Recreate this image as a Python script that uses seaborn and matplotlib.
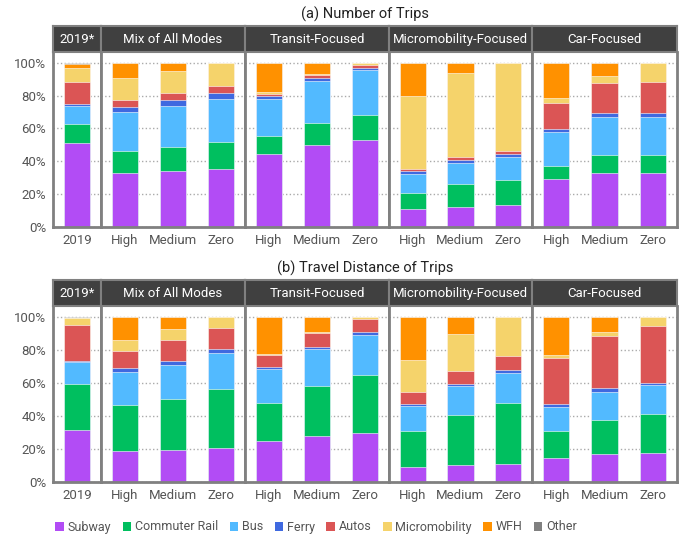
import pandas as pd
import matplotlib
matplotlib.use('Agg')
import matplotlib.pyplot as plt
import seaborn as sns
from matplotlib import font_manager
from matplotlib.patches import Patch

# Data (percent shares)
modes = ['Subway', 'Commuter Rail', 'Bus', 'Ferry', 'Autos', 'Micromobility', 'WFH', 'Other']
mode_colors = ['#B24CF5', '#00BF5F', '#52BAFF', '#3F69E0', '#DB5555', '#F5D36B', '#FF9100', '#808080']
scenarios = ['2019*', 'Mix of All Modes', 'Transit-Focused', 'Micromobility-Focused', 'Car-Focused']
levels = ['High', 'Medium', 'Zero']
bar_keys = [('2019*', '2019')] + [(s, l) for s in scenarios[1:] for l in levels]

# order: 2019 | Mix H M Z | Transit H M Z | Micro H M Z | Car H M Z
trips = {
    'Subway':        [51.0, 32.7, 33.9, 35.3, 44.3, 49.8, 52.7, 10.8, 12.2, 13.1, 29.0, 33.1, 32.7],
    'Commuter Rail': [11.9, 13.6, 14.9, 16.7, 10.8, 13.7, 15.3, 10.0, 13.9, 15.7, 8.3, 10.6, 11.4],
    'Bus':           [11.0, 23.7, 25.1, 26.2, 23.1, 25.3, 27.3, 11.6, 13.1, 14.1, 20.3, 23.4, 23.0],
    'Ferry':         [1.2, 3.1, 3.2, 3.2, 1.4, 1.6, 1.4, 1.5, 1.8, 1.8, 2.2, 2.5, 2.3],
    'Autos':         [12.9, 4.0, 4.3, 4.5, 1.4, 1.8, 1.9, 1.4, 1.7, 1.6, 15.5, 18.0, 19.0],
    'Micromobility': [8.7, 13.5, 13.7, 14.1, 1.2, 0.7, 1.4, 44.3, 50.8, 53.7, 3.3, 4.0, 11.6],
    'WFH':           [2.5, 9.4, 4.9, 0.0, 17.8, 7.1, 0.0, 20.4, 6.5, 0.0, 21.4, 8.4, 0.0],
    'Other':         [0.8, 0.0, 0.0, 0.0, 0.0, 0.0, 0.0, 0.0, 0.0, 0.0, 0.0, 0.0, 0.0],
}
distance = {
    'Subway':        [31.5, 18.5, 19.5, 20.3, 25.0, 28.0, 29.7, 8.9, 10.0, 10.8, 14.8, 17.1, 17.7],
    'Commuter Rail': [27.6, 28.0, 30.7, 35.8, 22.8, 30.1, 35.1, 22.2, 30.7, 36.8, 15.9, 20.7, 23.6],
    'Bus':           [13.3, 19.8, 20.9, 21.9, 20.5, 22.2, 24.2, 14.8, 17.2, 18.3, 14.8, 16.9, 17.2],
    'Ferry':         [1.0, 2.4, 2.3, 2.5, 1.4, 1.6, 1.7, 1.3, 1.5, 1.8, 1.7, 2.0, 1.7],
    'Autos':         [21.7, 10.8, 12.6, 12.4, 7.1, 8.1, 7.9, 7.3, 7.7, 8.3, 27.8, 31.5, 33.9],
    'Micromobility': [4.3, 6.5, 6.5, 7.1, 0.6, 0.6, 1.0, 19.1, 22.3, 24.0, 1.8, 2.4, 5.9],
    'WFH':           [0.0, 14.0, 7.5, 0.0, 22.6, 9.4, 0.0, 26.4, 10.6, 0.0, 23.2, 9.4, 0.0],
    'Other':         [0.6, 0.0, 0.0, 0.0, 0.0, 0.0, 0.4, 0.0, 0.0, 0.0, 0.0, 0.0, 0.0],
}
panel_titles = ['(a) Number of Trips', '(b) Travel Distance of Trips']


def to_long(values):
    rows = []
    for i, (scen, lev) in enumerate(bar_keys):
        for m in modes:
            rows.append({'scenario': scen, 'level': lev, 'mode': m, 'value': values[m][i]})
    df = pd.DataFrame(rows)
    df['top'] = df.groupby(['scenario', 'level'], sort=False)['value'].cumsum()
    return df


sns.set_theme(style='white')
names = {f.name for f in font_manager.fontManager.ttflist}
family = 'Liberation Sans Narrow' if 'Liberation Sans Narrow' in names else 'Roboto'
plt.rcParams['font.family'] = [family, 'DejaVu Sans']

W, H = 694, 540
fig = plt.figure(figsize=(W / 100, H / 100), dpi=100)

edges = [53, 101, 245, 389, 532, 677]
# (header top, plot top, plot bottom) in pixels
rows_px = [(26, 52, 227), (280, 306, 482)]
border = '#808080'
text_gray = '#555555'

for p, data in enumerate([trips, distance]):
    df = to_long(data)
    htop, ptop, pbot = rows_px[p]
    for j, scen in enumerate(scenarios):
        x0, x1 = edges[j], edges[j + 1]
        ax = fig.add_axes([x0 / W, 1 - pbot / H, (x1 - x0) / W, (pbot - ptop) / H])
        sub = df[df['scenario'] == scen]
        order = list(dict.fromkeys(sub['level']))
        # draw cumulative tops from the top layer down so lower layers sit on top
        for m, c in reversed(list(zip(modes, mode_colors))):
            d = sub[sub['mode'] == m]
            sns.barplot(data=d, x='level', y='top', order=order, color=c, saturation=1,
                        width=0.55, edgecolor='#ffffff', linewidth=0.4, errorbar=None, ax=ax)
        ax.set_xlim(-0.5, len(order) - 0.5)
        ax.set_ylim(0, 106.5)
        ax.set_yticks([0, 20, 40, 60, 80, 100])
        ax.yaxis.grid(True, linestyle=':', color='#aaaaaa', linewidth=1)
        ax.set_axisbelow(True)
        ax.set_xlabel('')
        ax.set_ylabel('')
        ax.tick_params(length=0, labelsize=9.5, labelcolor=text_gray, pad=5)
        if j == 0:
            ax.set_yticklabels([f'{v}%' for v in [0, 20, 40, 60, 80, 100]])
        else:
            ax.set_yticklabels([])
        ax.spines['top'].set_visible(False)
        for s in ['left', 'right', 'bottom']:
            ax.spines[s].set_color(border)
            ax.spines[s].set_linewidth(2)

        hax = fig.add_axes([x0 / W, 1 - ptop / H, (x1 - x0) / W, (ptop - htop) / H])
        hax.set_facecolor('#404040')
        hax.set_xticks([])
        hax.set_yticks([])
        for s in hax.spines.values():
            s.set_color(border)
            s.set_linewidth(1.5)
        hax.text(0.5, 0.47, scen, ha='center', va='center', color='white', fontsize=9.5,
                 transform=hax.transAxes)

    fig.text(365 / W, 1 - (htop - 12) / H, panel_titles[p], ha='center', va='center',
             fontsize=10.5, color='#222222')

handles = [Patch(facecolor=c, edgecolor='none', label=m) for m, c in zip(modes, mode_colors)]
fig.legend(handles=handles, loc='center left', bbox_to_anchor=(44 / W, 1 - 527 / H), ncol=8,
           frameon=False, fontsize=9, handlelength=0.7, handleheight=0.7, handletextpad=0.3,
           columnspacing=0.9, labelcolor=text_gray)

fig.savefig('out.png', dpi=100)
